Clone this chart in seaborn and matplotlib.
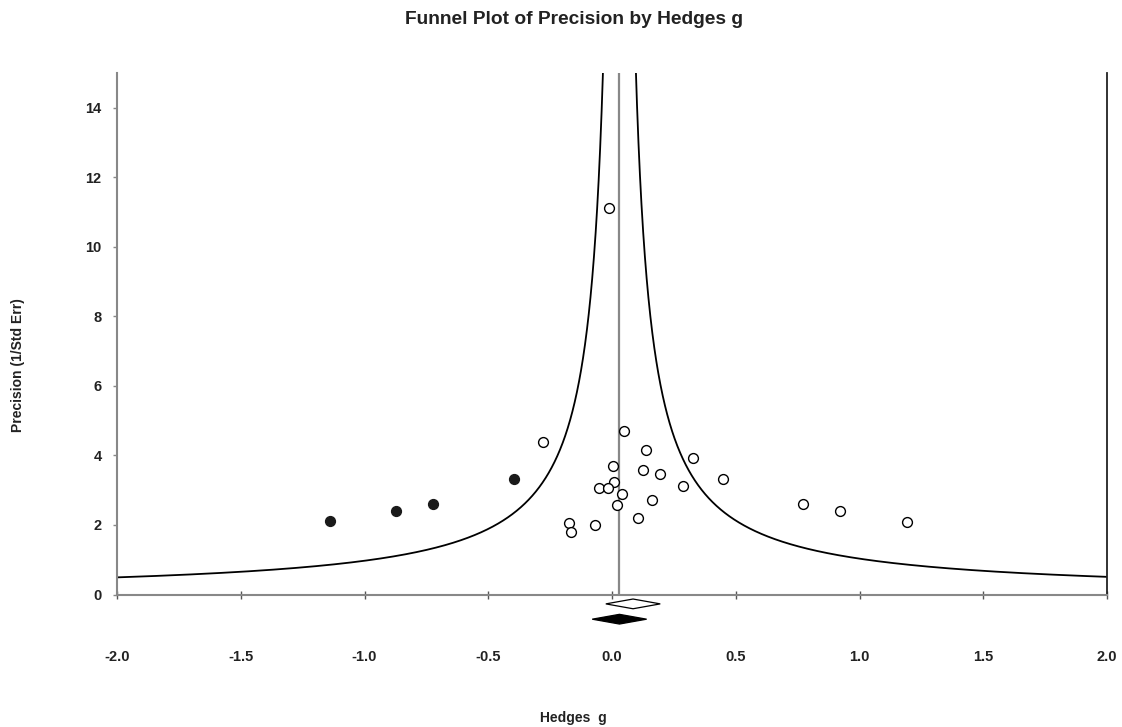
import numpy as np
import pandas as pd
import matplotlib
matplotlib.use('Agg')
import matplotlib.pyplot as plt
from matplotlib.patches import Polygon
import seaborn as sns

# observed studies (Hedges g, precision)
obs_g = [-0.280, 0.049, 0.137, 0.326, 0.005, 0.125, 0.195, 0.447, 0.008, -0.054,
         -0.018, 0.285, 0.042, 0.162, 0.019, 0.105, -0.175, -0.070, -0.166,
         0.773, 0.923, 1.191, -0.014]
obs_prec = [4.40, 4.71, 4.15, 3.92, 3.69, 3.59, 3.47, 3.33, 3.25, 3.07,
            3.07, 3.12, 2.89, 2.72, 2.56, 2.21, 2.06, 2.01, 1.80,
            2.60, 2.41, 2.09, 11.12]

# imputed studies (trim and fill)
imp_g = [-1.138, -0.872, -0.722, -0.397]
imp_prec = [2.10, 2.41, 2.60, 3.33]

# summary effects (point, half width of the diamond)
obs_mean, obs_half = 0.085, 0.11
adj_mean, adj_half = 0.030, 0.11
funnel_c = 1.0

xticks = [-2.0, -1.5, -1.0, -0.5, 0.0, 0.5, 1.0, 1.5, 2.0]
yticks = [0, 2, 4, 6, 8, 10, 12, 14]

sns.set_style('white')
plt.rcParams['font.family'] = ['Liberation Sans', 'DejaVu Sans']

fig = plt.figure(figsize=(11.22, 7.27), dpi=100)
ax = fig.add_axes([117 / 1122, 1 - 594.5 / 727, 990 / 1122, (594.5 - 73) / 727])

# funnel limits around the adjusted mean
gx = np.linspace(-2, 2, 4001)
dist = np.abs(gx - adj_mean)
dist[dist < 1e-6] = np.nan
prec_line = funnel_c / dist
left = pd.DataFrame({'g': gx[gx < adj_mean], 'p': prec_line[gx < adj_mean]})
right = pd.DataFrame({'g': gx[gx > adj_mean], 'p': prec_line[gx > adj_mean]})
left = left[left.p <= 15.5]
right = right[right.p <= 15.5]
sns.lineplot(data=left, x='g', y='p', color='black', lw=1.3, ax=ax, sort=False)
sns.lineplot(data=right, x='g', y='p', color='black', lw=1.3, ax=ax, sort=False)

ax.axvline(adj_mean, color='#888888', lw=1.6, zorder=1)

obs = pd.DataFrame({'g': obs_g, 'p': obs_prec})
imp = pd.DataFrame({'g': imp_g, 'p': imp_prec})
sns.scatterplot(data=obs, x='g', y='p', ax=ax, s=50, marker='o',
                facecolor='white', edgecolor='black', linewidth=1.0, zorder=3)
sns.scatterplot(data=imp, x='g', y='p', ax=ax, s=50, marker='o',
                color='#1a1a1a', edgecolor='#1a1a1a', linewidth=1.0, zorder=3)

# summary diamonds below the axis
dh = 0.14
for m, hw, yc, fc in [(obs_mean, obs_half, -0.27, 'white'), (adj_mean, adj_half, -0.71, 'black')]:
    poly = Polygon([[m - hw, yc], [m, yc + dh], [m + hw, yc], [m, yc - dh]],
                   closed=True, facecolor=fc, edgecolor='black', lw=0.9, clip_on=False, zorder=4)
    ax.add_patch(poly)

ax.set_xlim(-2, 2)
ax.set_ylim(0, 15)
ax.set_xticks(xticks)
ax.set_xticklabels(['%.1f' % t for t in xticks])
ax.set_yticks(yticks)

for s in ['left', 'bottom']:
    ax.spines[s].set_color('#888888')
    ax.spines[s].set_linewidth(1.5)
ax.spines['top'].set_visible(False)
ax.spines['right'].set_color('#222222')
ax.spines['right'].set_linewidth(1.3)

ax.tick_params(axis='x', direction='inout', length=6, width=1, color='#555555',
               pad=37, labelsize=10.5, bottom=True)
ax.tick_params(axis='y', direction='out', length=3, width=1, color='#888888',
               pad=8, labelsize=10.5, left=True)
for lab in ax.get_xticklabels() + ax.get_yticklabels():
    lab.set_fontweight('bold')
    lab.set_color('#222222')

ax.set_xlabel('')
ax.set_ylabel('')
fig.text(574 / 1122, 1 - 20 / 727, 'Funnel Plot of Precision by Hedges g', ha='center', va='center',
         fontsize=13.8, fontweight='bold', color='#222222')
fig.text(573 / 1122, 1 - 718 / 727, 'Hedges  g', ha='center', va='center',
         fontsize=10, fontweight='bold', color='#222222')
fig.text(18 / 1122, 1 - 365 / 727, 'Precision (1/Std Err)', ha='center', va='center', rotation=90,
         fontsize=10, fontweight='bold', color='#222222')

fig.savefig('out.png', dpi=100)
